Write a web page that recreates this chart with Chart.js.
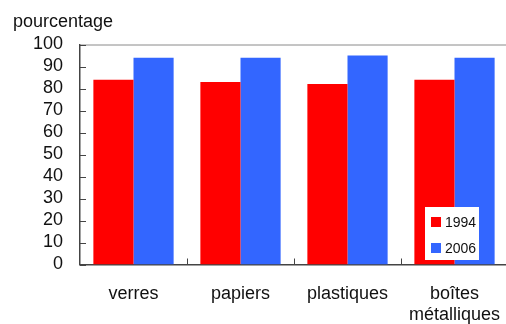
<!DOCTYPE html>
<html>
<head>
<meta charset="utf-8">
<script src="https://cdn.jsdelivr.net/npm/chart.js@4.4.1/dist/chart.umd.min.js"></script>
<style>
  html, body { margin: 0; padding: 0; background: #fff; overflow: hidden; }
  #wrap { width: 508px; height: 324px; }
</style>
</head>
<body>
<div id="wrap"><canvas id="c" width="508" height="324"></canvas></div>
<script>
// Taux de recyclage par matériau (pourcentage)
const categories = ['verres', 'papiers', 'plastiques', ['boîtes', 'métalliques']];
const seriesNames = ['1994', '2006'];
const values1994 = [84, 83, 82, 84];
const values2006 = [94, 94, 95, 94];
const yTicks = [0, 10, 20, 30, 40, 50, 60, 70, 80, 90, 100];

const FONT = 'Liberation Sans, Arial, sans-serif';
const colors = ['#FF0000', '#3366FF'];

// Inner tick marks, top frame line, unit label and the boxed legend
const decorations = {
  id: 'decorations',
  afterDraw(chart) {
    const ctx = chart.ctx;
    const area = chart.chartArea;
    const x = chart.scales.x, y = chart.scales.y;
    ctx.save();
    // top frame
    ctx.strokeStyle = '#8a8a8a';
    ctx.lineWidth = 1;
    ctx.beginPath();
    ctx.moveTo(area.left, area.top + 0.5);
    ctx.lineTo(area.right, area.top + 0.5);
    ctx.stroke();
    // y ticks pointing inward
    ctx.strokeStyle = '#444';
    ctx.lineWidth = 1;
    yTicks.forEach(v => {
      const py = Math.round(y.getPixelForValue(v)) + 0.5;
      ctx.beginPath();
      ctx.moveTo(area.left, py);
      ctx.lineTo(area.left + 6, py);
      ctx.stroke();
    });
    // category separators on the x axis
    for (let i = 0; i < categories.length - 1; i++) {
      const px = Math.round((x.getPixelForValue(i) + x.getPixelForValue(i + 1)) / 2) + 0.5;
      ctx.beginPath();
      ctx.moveTo(px, area.bottom);
      ctx.lineTo(px, area.bottom - 6);
      ctx.stroke();
    }
    // unit label
    ctx.fillStyle = '#111';
    ctx.font = '18px ' + FONT;
    ctx.textAlign = 'left';
    ctx.textBaseline = 'alphabetic';
    ctx.fillText('pourcentage', 13, 27);
    // legend
    const lx = 425, ly = 207, lw = 54, lh = 53;
    ctx.fillStyle = '#fff';
    ctx.fillRect(lx, ly, lw, lh);
    ctx.font = '14px ' + FONT;
    chart.data.datasets.forEach((ds, i) => {
      const ry = ly + 10 + i * 26;
      ctx.fillStyle = ds.backgroundColor;
      ctx.fillRect(lx + 6, ry, 10, 10);
      ctx.fillStyle = '#111';
      ctx.fillText(ds.label, lx + 20, ry + 10);
    });
    ctx.restore();
  }
};

new Chart(document.getElementById('c'), {
  type: 'bar',
  data: {
    labels: categories,
    datasets: [
      { label: seriesNames[0], data: values1994, backgroundColor: colors[0] },
      { label: seriesNames[1], data: values2006, backgroundColor: colors[1] }
    ]
  },
  options: {
    responsive: false,
    animation: false,
    devicePixelRatio: 1,
    layout: { padding: { top: 44.5, right: 0, bottom: 0, left: 0 } },
    datasets: {
      bar: { barPercentage: 1, categoryPercentage: 0.75, borderWidth: 0 }
    },
    plugins: {
      legend: { display: false },
      tooltip: { enabled: false }
    },
    scales: {
      x: {
        grid: { display: false, drawTicks: false },
        border: { display: true, color: '#444', width: 1.5 },
        ticks: {
          color: '#111',
          font: { family: FONT, size: 18, lineHeight: 1.15 },
          padding: 19,
          maxRotation: 0,
          autoSkip: false
        },
        afterFit(scale) {
          scale.height = 59.5;
          scale.paddingLeft = 0;
          scale.paddingRight = 0;
        }
      },
      y: {
        min: 0,
        max: 100,
        afterBuildTicks(scale) { scale.ticks = yTicks.map(v => ({ value: v })); },
        grid: { display: false, drawTicks: false },
        border: { display: true, color: '#444', width: 1.5 },
        ticks: {
          color: '#111',
          font: { family: FONT, size: 18 },
          padding: 17,
          autoSkip: false
        },
        afterFit(scale) {
          scale.width = 80;
          scale.paddingTop = 0;
          scale.paddingBottom = 0;
        }
      }
    }
  },
  plugins: [decorations]
});
</script>
</body>
</html>
